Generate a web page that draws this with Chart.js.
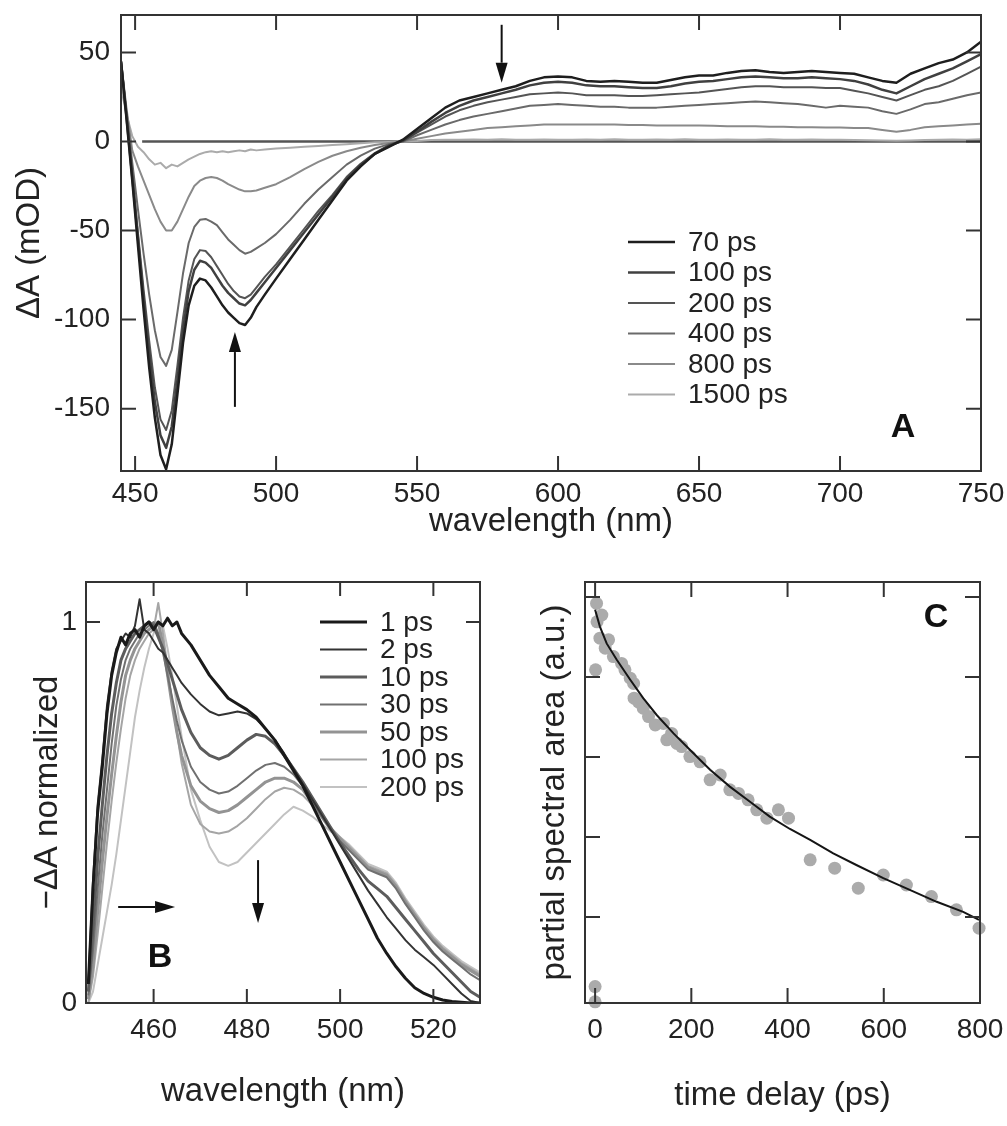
<!DOCTYPE html>
<html><head><meta charset="utf-8">
<script src="https://cdn.jsdelivr.net/npm/chart.js@4.4.1/dist/chart.umd.min.js"></script>
<style>
html,body{margin:0;padding:0;background:#fff;}
#wrap{position:relative;width:1007px;height:1126px;overflow:hidden;background:#fff;}
canvas{position:absolute;}
</style></head><body>
<div id="wrap">
<canvas id="cA" width="1007" height="560" style="left:0;top:0;width:1007px;height:560px"></canvas>
<canvas id="cB" width="500" height="566" style="left:0;top:560px;width:500px;height:566px"></canvas>
<canvas id="cC" width="507" height="566" style="left:500px;top:560px;width:507px;height:566px"></canvas>
</div>
<script>
// ================= Panel A data (ΔA in mOD vs wavelength) =================
const A_WL = [445,447,449,451,453,455,457,459,461,463,465,467,469,471,473,475,477,479,481,483,485,487,489,491,493,496,500,
  505,510,515,520,525,530,535,540,545,550,555,560,565,570,575,580,585,590,595,600,605,610,615,620,625,630,635,640,645,650,
  655,660,665,670,675,680,685,690,695,700,705,710,715,720,725,730,735,740,745,750];
const A_LABELS = ['70 ps','100 ps','200 ps','400 ps','800 ps','1500 ps'];
const A_70 = [45,12,-22,-58,-94,-127,-155,-176,-184,-170,-142,-113,-92,-81,-77,-78,-82,-87,-92,-96,-99,-102,-103,-99,-93,-86,-77,
  -66,-55,-44,-33,-22,-14,-7,-3,1,7,13,19,23,25,27,29,31,34,36,36.5,36,34,33.5,34,33.5,33,33,34.5,36,37,
  37,38.5,39.5,40,39,38.5,39,39.5,39,38.5,38,36,34,33,38,41,44,46,50,56];
const A_100 = [45,13,-20,-54,-88,-119,-146,-165,-172,-160,-134,-106,-84,-72,-67,-68,-71,-76,-81,-85,-88,-91,-92,-89,-85,-79,-71,
  -61,-51,-41,-31,-21,-13,-7,-2.5,0.5,5.5,11,16,20,23,25,27,29,31.5,33,33.5,33,31.5,31,31,30.5,30,30,31,32.5,33.5,
  34,35,36,36.5,36,35.5,35.5,36,35.5,35,34,32,29,27,31,35,38,41,45,49];
const A_200 = [45,14,-18,-51,-83,-112,-138,-156,-162,-151,-126,-99,-78,-66,-61,-61.5,-65,-70,-75,-80,-84,-87,-88,-86,-82,-76,-69,
  -59,-49,-39,-30,-20,-12.5,-6.5,-2,0.5,5,9.5,14,17.5,20,22,23.5,25,26.5,27,27.5,27,26,26,26,25.5,25.5,26,26.5,27,27.5,
  28.5,29.5,30.5,31,31,30.5,30.5,30.5,30,30,28.5,27,25,23,26,29,31,34,38,42];
const A_400 = [45,16,-12,-38,-63,-86,-106,-121,-126,-117,-96,-74,-57,-48,-44,-43.5,-45,-47,-51,-55,-58,-61,-63,-62,-60,-57,-52,
  -44,-35,-27,-20,-13,-8,-4,-1.5,0,3.5,6.5,9.5,12,14,15.5,17,18.5,20,20.5,21,20.5,20,19.5,19.5,19,19,19,19.5,20,20.5,
  21,21.5,22,22.5,22,21.5,21,20,19,20,19.5,19,17,15.5,18,21,22,24,26,27.5];
const A_800 = [45,18,-5,-14,-22,-30,-38,-45,-50,-50,-45,-38,-31,-25,-22,-20.5,-20,-20.5,-22,-24,-25.5,-27,-28,-28,-27.5,-26,-24,
  -20,-15.5,-11.5,-8,-5.5,-3.5,-2,-0.8,0,1.5,3,4.5,5.5,6.5,7.5,8,8.5,9,9.5,9.5,9.5,9.5,9.5,9.5,9.3,9.2,9,9,9,9,
  8.8,8.6,8.6,8.5,8.3,8.2,8,8,7.8,7.8,7.6,7.5,6.5,5.5,6.5,8,8.5,9,9.5,10];
const A_1500 = [30,15,3,-3,-6,-10,-13,-12,-15,-13,-14,-12,-10,-8.5,-7,-6,-5.5,-6,-5.5,-6,-5.5,-5,-5.5,-4.5,-5,-4.5,-4,
  -3.5,-3,-2.5,-2,-1.5,-1,-0.5,-0.3,0,0.3,0.8,1,0.9,1.1,1,1.2,0.9,1,1.1,1,0.9,1.1,1,1.2,1,0.9,1.1,1,1.2,1,
  1,1.1,0.9,1,1.2,1,0.9,1.1,1,1,0.8,0.7,0.5,0.4,0.6,0.8,1,1.1,1,1.2];
const A_ZERO_WL = [452.5, 750];
const A_ZERO = [0, 0];
const A_XTICKS = [450,500,550,600,650,700,750];
const A_YTICKS = [-150,-100,-50,0,50];

// ================= Panel B data (−ΔA normalized) =================
const B_WL = [446,447,448,449,450,451,452,453,454,455,456,457,458,459,460,461,462,463,464,465,466,
  468,470,472,474,476,478,480,482,484,486,488,490,492,494,496,498,500,502,504,506,508,510,512,514,516,518,520,522,524,526,528,530];
const B_LABELS = ['1 ps','2 ps','10 ps','30 ps','50 ps','100 ps','200 ps'];
const B_1 = [0.05,0.3,0.5,0.62,0.76,0.86,0.92,0.96,0.94,0.97,0.98,0.96,0.99,1.0,0.98,1.0,0.99,1.01,0.99,1.0,0.97,
  0.94,0.9,0.86,0.83,0.8,0.785,0.77,0.75,0.72,0.69,0.65,0.61,0.57,0.52,0.47,0.42,0.37,0.32,0.27,0.22,0.17,0.13,0.095,0.065,0.04,0.025,0.015,0.008,0.004,0.002,0,0];
const B_2 = [0.05,0.32,0.52,0.64,0.78,0.87,0.93,0.95,0.97,0.96,0.99,1.06,0.98,0.97,0.95,0.93,0.92,0.9,0.88,0.86,0.84,
  0.81,0.785,0.765,0.755,0.76,0.765,0.76,0.745,0.72,0.69,0.655,0.615,0.575,0.535,0.495,0.455,0.415,0.375,0.335,0.295,0.26,0.225,0.195,0.165,0.14,0.12,0.1,0.075,0.05,0.025,0.005,0];
const B_10 = [0.03,0.2,0.38,0.52,0.65,0.76,0.84,0.9,0.93,0.95,0.97,0.98,0.99,1.0,0.99,0.96,0.93,0.89,0.85,0.81,0.77,
  0.71,0.67,0.65,0.64,0.65,0.67,0.69,0.705,0.7,0.68,0.65,0.615,0.58,0.54,0.5,0.46,0.42,0.385,0.35,0.32,0.3,0.28,0.25,0.22,0.19,0.16,0.13,0.105,0.08,0.055,0.03,0.015];
const B_30 = [0.02,0.14,0.3,0.44,0.56,0.68,0.78,0.85,0.9,0.93,0.95,0.97,0.98,0.99,1.0,0.97,0.92,0.86,0.8,0.74,0.69,
  0.62,0.58,0.56,0.55,0.555,0.57,0.59,0.61,0.625,0.63,0.62,0.6,0.57,0.53,0.49,0.455,0.425,0.4,0.375,0.35,0.34,0.33,0.3,0.26,0.225,0.19,0.16,0.135,0.115,0.095,0.075,0.06];
const B_50 = [0.01,0.1,0.24,0.37,0.49,0.6,0.7,0.79,0.86,0.9,0.93,0.95,0.97,0.98,0.99,1.0,0.94,0.86,0.78,0.71,0.65,
  0.57,0.53,0.51,0.5,0.505,0.52,0.54,0.56,0.58,0.59,0.59,0.58,0.56,0.525,0.49,0.455,0.43,0.405,0.38,0.355,0.345,0.335,0.305,0.265,0.23,0.195,0.165,0.14,0.12,0.1,0.085,0.07];
const B_100 = [0,0.07,0.18,0.3,0.42,0.53,0.63,0.72,0.8,0.86,0.9,0.93,0.95,0.97,0.98,1.05,0.97,0.88,0.79,0.71,0.63,
  0.52,0.47,0.45,0.445,0.45,0.465,0.485,0.51,0.535,0.555,0.565,0.56,0.545,0.52,0.49,0.46,0.435,0.41,0.385,0.36,0.35,0.34,0.31,0.27,0.235,0.2,0.17,0.145,0.125,0.105,0.09,0.075];
const B_200 = [0,0.03,0.1,0.17,0.24,0.31,0.39,0.48,0.57,0.66,0.75,0.82,0.88,0.93,0.97,1.0,0.99,0.93,0.86,0.78,0.7,
  0.56,0.48,0.41,0.37,0.36,0.37,0.395,0.42,0.445,0.47,0.495,0.515,0.505,0.49,0.47,0.45,0.435,0.415,0.39,0.365,0.355,0.345,0.315,0.275,0.24,0.205,0.175,0.15,0.13,0.11,0.095,0.08];
const B_XTICKS = [460,480,500,520];
const B_YTICKS = [0,1];

// ================= Panel C data (partial spectral area vs delay) =================
const C_T   = [0,0,1,3,4,10,14,21,28,38,55,62,73,80,81,90,100,111,125,142,149,159,170,180,197,218,239,260,280,298,318,336,357,381,402,447,498,547,599,647,699,751,798];
const C_VAL = [-0.012,0.026,0.818,0.984,0.938,0.897,0.955,0.872,0.893,0.851,0.834,0.818,0.797,0.784,0.747,0.738,0.722,0.701,0.680,0.684,0.643,0.659,0.634,0.626,0.601,0.588,0.543,0.555,0.518,0.509,0.493,0.468,0.447,0.468,0.447,0.343,0.322,0.272,0.305,0.280,0.251,0.218,0.172];
const C_FIT_T   = [0,10,24,45,73,100,128,163,197,239,280,322,363,405,447,495,543,599,654,710,765,798];
const C_FIT_VAL = [0.968,0.926,0.884,0.843,0.793,0.747,0.705,0.659,0.618,0.568,0.526,0.488,0.451,0.42,0.393,0.359,0.33,0.297,0.268,0.238,0.213,0.193];
const C_XTICKS = [0,200,400,600,800];
const C_YTICKS = [0.2,0.4,0.6,0.8,1.0];

// ================= helpers =================
const FONT = "'Liberation Sans', Arial, Helvetica, sans-serif";
Chart.defaults.font.family = FONT;
Chart.defaults.color = '#222';
Chart.defaults.animation = false;
const pts = (xs, ys) => xs.map((x, i) => ({x, y: ys[i]}));

const framePlugin = {
  id: 'frame',
  afterDatasetsDraw(chart, args, o) {
    const {ctx, chartArea: a} = chart;
    const xs = chart.scales.x, ys = chart.scales.y;
    ctx.save();
    ctx.strokeStyle = o.color; ctx.lineWidth = o.width;
    ctx.beginPath();
    for (const t of xs.ticks) { const p = xs.getPixelForValue(t.value);
      ctx.moveTo(p, a.bottom); ctx.lineTo(p, a.bottom - o.len);
      ctx.moveTo(p, a.top); ctx.lineTo(p, a.top + o.len); }
    for (const t of ys.ticks) { const p = ys.getPixelForValue(t.value);
      ctx.moveTo(a.left, p); ctx.lineTo(a.left + o.len, p);
      ctx.moveTo(a.right, p); ctx.lineTo(a.right - o.len, p); }
    ctx.stroke();
    ctx.strokeRect(a.left, a.top, a.right - a.left, a.bottom - a.top);
    ctx.restore();
  }
};

const annotPlugin = {
  id: 'annot',
  afterDraw(chart, args, o) {
    const {ctx, chartArea: a} = chart;
    const xs = chart.scales.x, ys = chart.scales.y;
    ctx.save();
    (o.arrows || []).forEach(ar => {
      const x1 = xs.getPixelForValue(ar.from[0]), y1 = ys.getPixelForValue(ar.from[1]);
      const x2 = xs.getPixelForValue(ar.to[0]), y2 = ys.getPixelForValue(ar.to[1]);
      const ang = Math.atan2(y2 - y1, x2 - x1), hl = 20, hw = 6;
      const bx = x2 - hl * Math.cos(ang), by = y2 - hl * Math.sin(ang);
      ctx.strokeStyle = '#111'; ctx.lineWidth = 2;
      ctx.beginPath(); ctx.moveTo(x1, y1); ctx.lineTo(bx, by); ctx.stroke();
      ctx.fillStyle = '#111';
      ctx.beginPath(); ctx.moveTo(x2, y2);
      ctx.lineTo(bx + hw * Math.sin(ang), by - hw * Math.cos(ang));
      ctx.lineTo(bx - hw * Math.sin(ang), by + hw * Math.cos(ang));
      ctx.closePath(); ctx.fill();
    });
    if (o.letter) {
      ctx.font = 'bold 34px ' + FONT; ctx.textAlign = 'center'; ctx.textBaseline = 'middle';
      ctx.fillStyle = '#111';
      ctx.fillText(o.letter.text, a.left + o.letter.dx, a.top + o.letter.dy);
    }
    if (o.legend) {
      const L = o.legend;
      ctx.font = L.size + 'px ' + FONT; ctx.textAlign = 'left'; ctx.textBaseline = 'middle';
      chart.data.datasets.forEach((ds, i) => {
        if (!ds.label) return;
        const y = a.top + L.dy + i * L.step;
        ctx.strokeStyle = ds.borderColor; ctx.lineWidth = ds.borderWidth;
        ctx.beginPath(); ctx.moveTo(a.left + L.dx, y); ctx.lineTo(a.left + L.dx + L.len, y); ctx.stroke();
        ctx.fillStyle = '#222';
        ctx.fillText(ds.label, a.left + L.dx + L.len + L.gap, y + 1);
      });
    }
    ctx.restore();
  }
};

function axis(opts) {
  return Object.assign({
    type: 'linear',
    grid: {display: false, drawTicks: false},
    border: {display: false},
  }, opts);
}
// fixed axis box sizes; x labels may overhang the plot edges like in the original
const fixX = h => s => { s.height = h; s.paddingLeft = 0; s.paddingRight = 0; };
const fixY = w => s => { s.width = w; s.paddingTop = 0; s.paddingBottom = 0; };
const lineDs = (label, xs, ys, color, width) => ({
  label, data: pts(xs, ys), borderColor: color, borderWidth: width,
  pointRadius: 0, tension: 0, fill: false, borderJoinStyle: 'round'
});

// ================= Chart A =================
new Chart(document.getElementById('cA'), {
  type: 'line',
  data: { datasets: [
    lineDs(A_LABELS[0], A_WL, A_70, '#1e1e1e', 2.5),
    lineDs(A_LABELS[1], A_WL, A_100, '#404040', 2.5),
    lineDs(A_LABELS[2], A_WL, A_200, '#555555', 2),
    lineDs(A_LABELS[3], A_WL, A_400, '#6a6a6a', 2),
    lineDs(A_LABELS[4], A_WL, A_800, '#8a8a8a', 2),
    lineDs(A_LABELS[5], A_WL, A_1500, '#ababab', 2),
    lineDs('', A_ZERO_WL, A_ZERO, '#555555', 2.5)
  ]},
  options: {
    responsive: false, events: [], animation: false,
    layout: {padding: {left: 0, top: 15, right: 26, bottom: 0}},
    plugins: {
      legend: {display: false}, tooltip: {enabled: false},
      frame: {color: '#333', width: 2, len: 15},
      annot: {
        arrows: [{from: [580, 65.5], to: [580, 33]}, {from: [485.4, -149], to: [485.4, -107]}],
        letter: {text: 'A', dx: 782, dy: 413},
        legend: {dx: 507, dy: 227, step: 30.5, len: 47, gap: 13, size: 28}
      }
    },
    scales: {
      x: axis({min: 445, max: 750,
        afterBuildTicks: s => { s.ticks = A_XTICKS.map(v => ({value: v})); },
        afterFit: fixX(89),
        ticks: {font: {size: 28}, padding: 6, maxRotation: 0, autoSkip: false},
        title: {display: true, text: 'wavelength (nm)', font: {size: 33}, padding: {top: 0, bottom: 18}}}),
      y: axis({min: -185, max: 71,
        afterBuildTicks: s => { s.ticks = A_YTICKS.map(v => ({value: v})); },
        afterFit: fixY(121),
        ticks: {font: {size: 28}, padding: 11},
        title: {display: true, text: 'ΔA (mOD)', font: {size: 33}, padding: {top: 10, bottom: 0}}})
    }
  },
  plugins: [framePlugin, annotPlugin]
});

// ================= Chart B =================
new Chart(document.getElementById('cB'), {
  type: 'line',
  data: { datasets: [
    lineDs(B_LABELS[0], B_WL, B_1, '#1a1a1a', 3),
    lineDs(B_LABELS[1], B_WL, B_2, '#333333', 2),
    lineDs(B_LABELS[2], B_WL, B_10, '#5c5c5c', 3),
    lineDs(B_LABELS[3], B_WL, B_30, '#707070', 2),
    lineDs(B_LABELS[4], B_WL, B_50, '#939393', 3),
    lineDs(B_LABELS[5], B_WL, B_100, '#a5a5a5', 2),
    lineDs(B_LABELS[6], B_WL, B_200, '#c2c2c2', 2)
  ]},
  options: {
    responsive: false, events: [], animation: false,
    layout: {padding: {left: 0, top: 22, right: 20, bottom: 0}},
    plugins: {
      legend: {display: false}, tooltip: {enabled: false},
      frame: {color: '#333', width: 2, len: 14},
      annot: {
        arrows: [{from: [452.4, 0.252], to: [464.6, 0.252]}, {from: [482.4, 0.375], to: [482.4, 0.21]}],
        letter: {text: 'B', dx: 74, dy: 376},
        legend: {dx: 234, dy: 40, step: 27.5, len: 47, gap: 13, size: 28}
      }
    },
    scales: {
      x: axis({min: 445.5, max: 530,
        afterBuildTicks: s => { s.ticks = B_XTICKS.map(v => ({value: v})); },
        afterFit: fixX(123),
        ticks: {font: {size: 28}, padding: 10, maxRotation: 0, autoSkip: false},
        title: {display: true, text: 'wavelength (nm)', font: {size: 33}, padding: {top: 0, bottom: 14}}}),
      y: axis({min: 0, max: 1.105,
        afterBuildTicks: s => { s.ticks = B_YTICKS.map(v => ({value: v})); },
        afterFit: fixY(86),
        ticks: {font: {size: 28}, padding: 9},
        title: {display: true, text: '−ΔA normalized', font: {size: 33}, padding: {top: 28, bottom: 0}}})
    }
  },
  plugins: [framePlugin, annotPlugin]
});

// ================= Chart C =================
new Chart(document.getElementById('cC'), {
  type: 'scatter',
  data: { datasets: [
    {label: 'fit', data: pts(C_FIT_T, C_FIT_VAL), showLine: true, borderColor: '#151515', borderWidth: 2,
     pointRadius: 0, tension: 0, fill: false},
    {label: 'data', data: pts(C_T, C_VAL), backgroundColor: '#ababab', borderWidth: 0, pointRadius: 6.5, clip: false}
  ]},
  options: {
    responsive: false, events: [], animation: false,
    layout: {padding: {left: 0, top: 22, right: 27, bottom: 0}},
    plugins: {
      legend: {display: false}, tooltip: {enabled: false},
      frame: {color: '#333', width: 2, len: 15},
      annot: { letter: {text: 'C', dx: 351, dy: 36} }
    },
    scales: {
      x: axis({min: -21, max: 800,
        afterBuildTicks: s => { s.ticks = C_XTICKS.map(v => ({value: v})); },
        afterFit: fixX(123),
        ticks: {font: {size: 28}, padding: 10, maxRotation: 0, autoSkip: false},
        title: {display: true, text: 'time delay (ps)', font: {size: 33}, padding: {top: 0, bottom: 10}}}),
      y: axis({min: -0.015, max: 1.0375,
        afterBuildTicks: s => { s.ticks = C_YTICKS.map(v => ({value: v})); },
        afterFit: fixY(85),
        ticks: {display: false},
        title: {display: true, text: 'partial spectral area (a.u.)', font: {size: 33}, padding: {top: 35, bottom: 0}}})
    }
  },
  plugins: [framePlugin, annotPlugin]
});
</script>
</body></html>
